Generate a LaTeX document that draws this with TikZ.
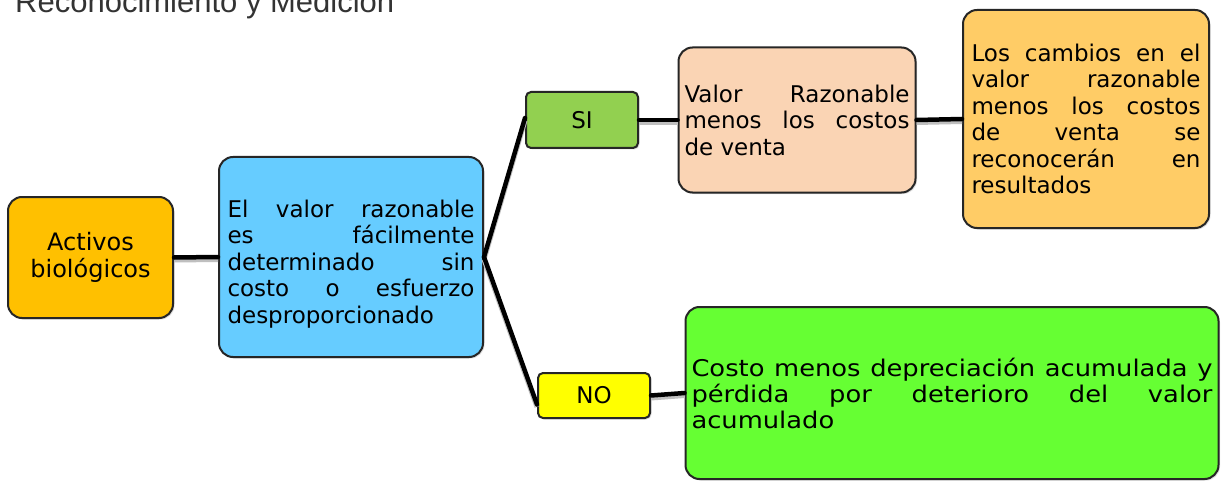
\documentclass[tikz,border=0pt]{standalone}
\usepackage{fontspec}
\setmainfont{DejaVu Sans}
\newfontfamily\anchafont[FakeStretch=1.12]{DejaVu Sans}
\newfontfamily\titulofont{Liberation Sans}
\usetikzlibrary{shadows}
\hyphenpenalty=10000
\exhyphenpenalty=10000
\tolerance=10000

\definecolor{naranja}{HTML}{FFC000}
\definecolor{celeste}{HTML}{66CCFF}
\definecolor{verdesi}{HTML}{92D050}
\definecolor{durazno}{HTML}{FAD4B4}
\definecolor{naranjaclaro}{HTML}{FFCC66}
\definecolor{amarillo}{HTML}{FFFF00}
\definecolor{verdeno}{HTML}{66FF33}

\tikzset{
  Caja/.style={draw=black!85, line width=2pt, rounded corners=14pt,
    inner sep=0pt, align=justify,
    font=\fontsize{23}{26.5}\selectfont,
    drop shadow={shadow xshift=1.5pt, shadow yshift=-1.5pt, opacity=.25}},
  Etiqueta/.style={Caja, rounded corners=5pt, align=center},
  Rama/.style={line width=4.5pt, black, line cap=round},
  RamaSombra/.style={line width=5pt, black!25, transform canvas={yshift=-2.5pt}},
}

\begin{document}
\begin{tikzpicture}[x=1pt,y=-1pt]
\useasboundingbox[fill=white] (0,0) rectangle (1225,481);

% titulo (cortado arriba)
\node[anchor=base west, inner sep=0pt, text=black!80, font=\titulofont\fontsize{31}{31}\selectfont]
  (titulo) at (15,13) {Reconocimiento y Medición};

% cajas
\node[Caja, fill=naranja, align=center, minimum width=165pt, minimum height=121pt,
  font=\fontsize{24}{26.5}\selectfont] (act) at (90.5,257.5) {Activos\\biológicos};
\node[Caja, fill=celeste, text width=247pt, minimum width=264pt, minimum height=200pt]
  (valrz) at (351,257) {\rule{0pt}{31.5pt}El valor razonable\linebreak es fácilmente\linebreak
  determinado sin\linebreak costo o esfuerzo\linebreak desproporcionado};
\node[Etiqueta, fill=verdesi, minimum width=112pt, minimum height=56pt] (si) at (582,120) {SI};
\node[Caja, fill=durazno, text width=225pt, minimum width=237pt, minimum height=145pt]
  (valor) at (797,120) {Valor Razonable\linebreak menos los costos\linebreak de venta};
\node[Caja, fill=naranjaclaro, text width=229pt, minimum width=246pt, minimum height=218pt]
  (cambios) at (1086,119) {Los cambios en el\linebreak valor razonable\linebreak
  menos los costos\linebreak de venta se\linebreak reconocerán en\linebreak resultados};
\node[Etiqueta, fill=amarillo, minimum width=112pt, minimum height=45pt] (no) at (594,395.5) {NO};
\node[Caja, fill=verdeno, text width=521pt, minimum width=533pt, minimum height=172pt,
  font=\anchafont\fontsize{23}{26}\selectfont]
  (costo) at (952,393) {Costo menos depreciación acumulada y\linebreak
  pérdida por deterioro del valor\linebreak acumulado};

\coordinate (noin) at ([yshift=-9pt]no.west);
\coordinate (siin) at ([yshift=2pt]si.west);

% ramas
\foreach \a/\b in {act.east/valrz.west, valrz.east/siin, valrz.east/noin,
  si.east/valor.west, valor.east/cambios.west, no.east/costo.west}{
  \draw[RamaSombra] (\a) -- (\b);
  \draw[Rama] (\a) -- (\b);
}
\end{tikzpicture}
\end{document}
